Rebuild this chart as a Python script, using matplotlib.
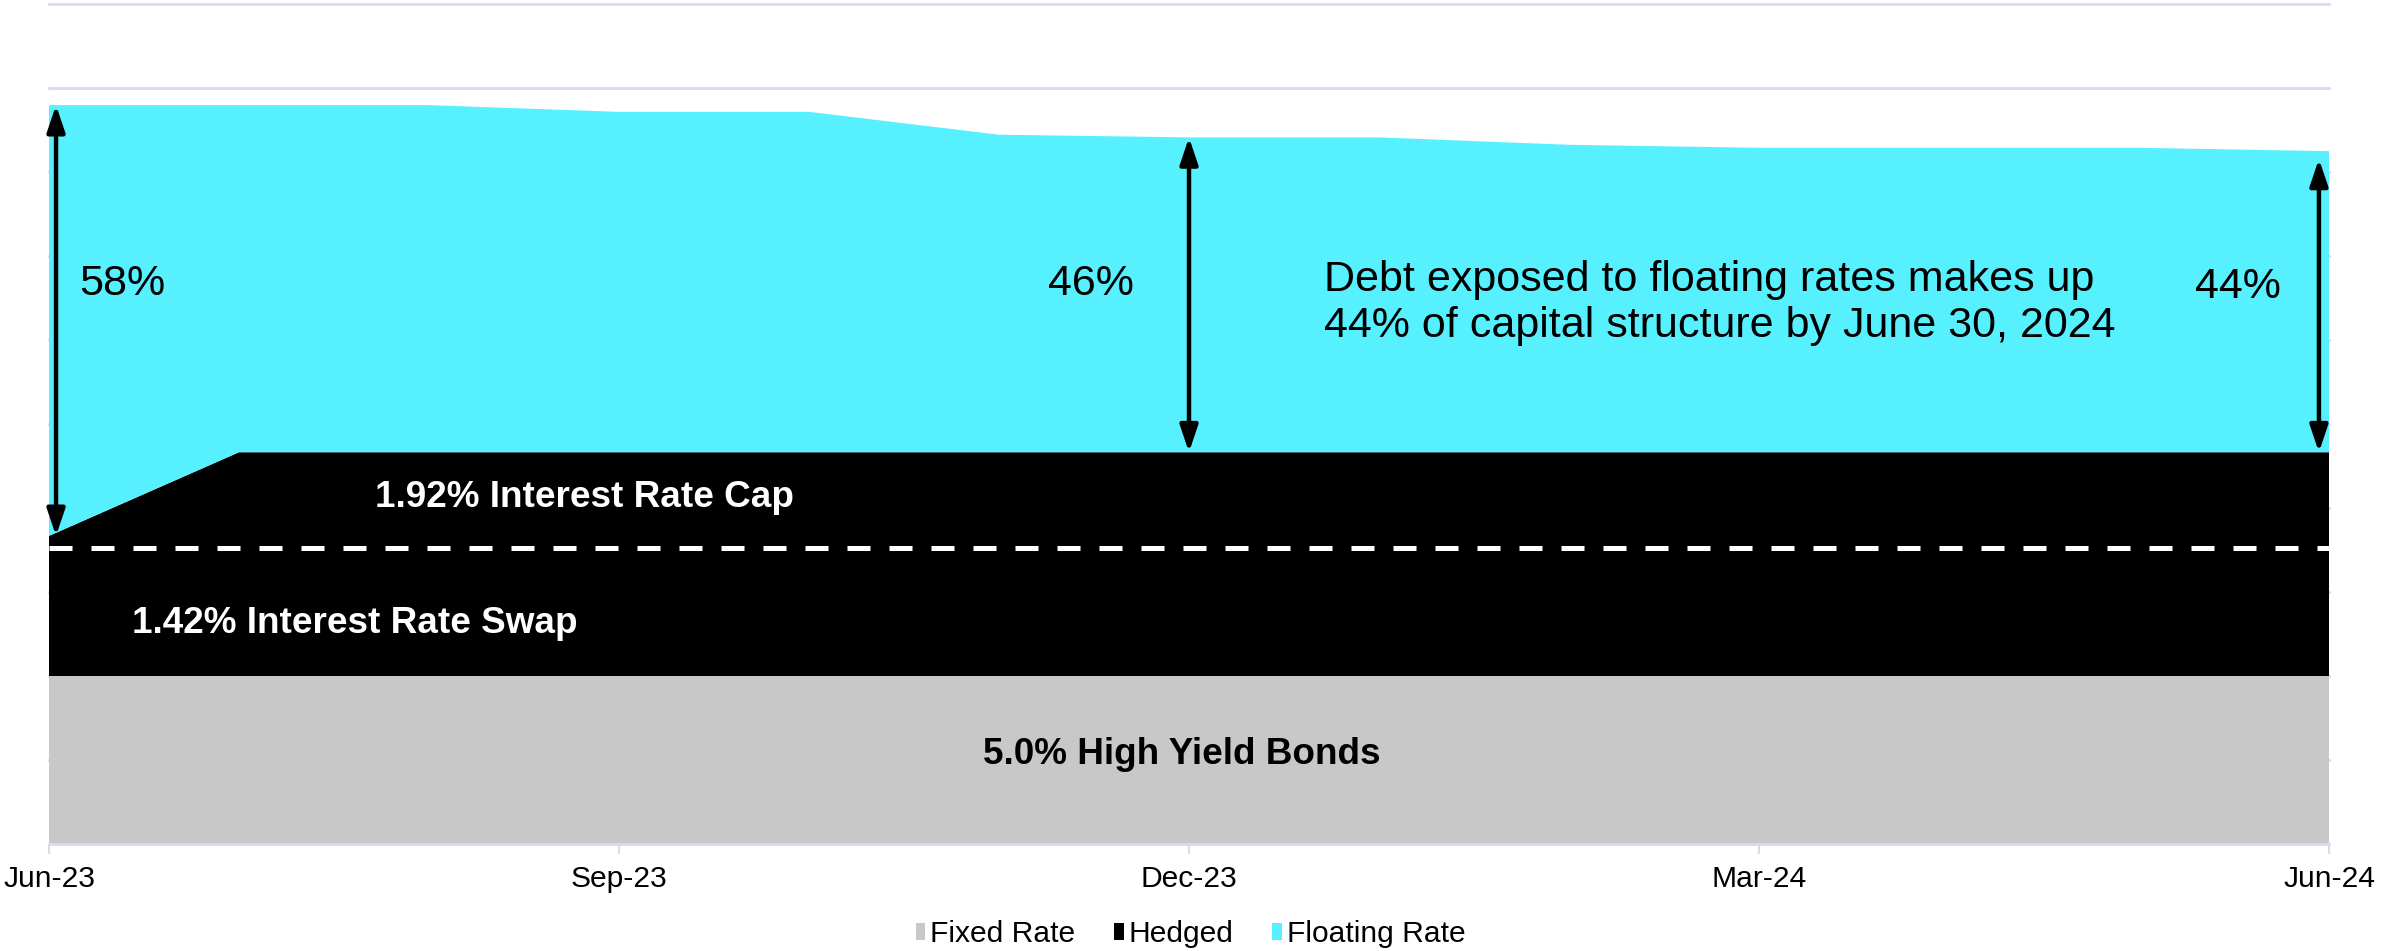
import matplotlib

matplotlib.use("Agg")
import matplotlib.pyplot as plt
import numpy as np
from matplotlib.patches import Patch

plt.rcParams["font.family"] = ["Liberation Sans", "DejaVu Sans"]

# ---------------------------------------------------------------------------
# Capital structure, month-end, $M
# ---------------------------------------------------------------------------
months = ["Jun-23", "Jul-23", "Aug-23", "Sep-23", "Oct-23", "Nov-23", "Dec-23",
          "Jan-24", "Feb-24", "Mar-24", "Apr-24", "May-24", "Jun-24"]
fixed_rate = [500] * 13
swap = [382] * 13
cap = [35, 284, 284, 284, 284, 284, 284, 284, 284, 284, 284, 284, 284]
floating_rate = [1282, 1033, 1033, 1013, 1013, 945, 937, 937, 915, 906, 906, 906, 896]

quarter_ticks = ["Jun-23", "Sep-23", "Dec-23", "Mar-24", "Jun-24"]
series_names = ["Fixed Rate", "Hedged", "Floating Rate"]

# arrow labels: (month, share of total that floats)
exposure_labels = [("Jun-23", "58%"), ("Dec-23", "46%"), ("Jun-24", "44%")]

GREY = "#C8C8C8"
BLACK = "#000000"
CYAN = "#57F0FF"
GRID = "#D7DCF6"


def main() -> None:
    x = np.arange(len(months))
    fixed = np.array(fixed_rate, dtype=float)
    hedged = np.array(swap, dtype=float) + np.array(cap, dtype=float)
    floating = np.array(floating_rate, dtype=float)

    fig = plt.figure(figsize=(23.81, 9.51), dpi=100)
    ax = fig.add_axes([0.02058, 0.1125, 0.95758, 0.8833])

    ax.stackplot(x, fixed, hedged, floating, colors=[GREY, BLACK, CYAN],
                 linewidth=0, zorder=2)

    # swap / cap boundary inside the hedged block
    ax.plot(x, fixed + np.array(swap), color="white", lw=3.6,
            dashes=(4.6, 3.8), zorder=3)

    # exposure arrows from top of hedged to top of floating
    hedged_top = fixed + hedged
    total = hedged_top + floating
    arrow_x = {"Jun-23": 0.037, "Dec-23": 6.0, "Jun-24": 11.947}
    arrow_top = {"Jun-23": 0.0, "Dec-23": 0.0, "Jun-24": 23.0}
    for m, _ in exposure_labels:
        i = months.index(m)
        ax.annotate("", xy=(arrow_x[m], total[i] - arrow_top[m]),
                    xytext=(arrow_x[m], hedged_top[i]),
                    arrowprops=dict(arrowstyle="<|-|>,head_length=0.8,head_width=0.27",
                                    mutation_scale=20, lw=3.2, color=BLACK,
                                    shrinkA=0, shrinkB=0),
                    zorder=4)

    ax.text(0.158, 1667, exposure_labels[0][1], fontsize=31, ha="left", va="center")
    ax.text(5.484, 1667, exposure_labels[1][1], fontsize=31, ha="center", va="center")
    ax.text(11.52, 1657, exposure_labels[2][1], fontsize=31, ha="center", va="center")
    ax.text(6.71, 1610,
            "Debt exposed to floating rates makes up\n"
            "44% of capital structure by June 30, 2024",
            fontsize=31, ha="left", va="center", linespacing=1.2)

    ax.text(2.82, 1032, "1.92% Interest Rate Cap", fontsize=26.6,
            fontweight="bold", color="white", ha="center", va="center")
    ax.text(1.61, 657, "1.42% Interest Rate Swap", fontsize=26.6,
            fontweight="bold", color="white", ha="center", va="center")
    ax.text(5.96, 265, "5.0% High Yield Bonds", fontsize=26.6,
            fontweight="bold", color=BLACK, ha="center", va="center")

    # axes styling
    ax.set_xlim(0, len(months) - 1)
    ax.set_ylim(0, 2500)
    ax.set_yticks(np.arange(0, 2501, 250))
    ax.yaxis.grid(True, color=GRID, lw=2)
    ax.set_axisbelow(True)
    ax.tick_params(axis="y", left=False, labelleft=False)
    ax.set_xticks([months.index(t) for t in quarter_ticks])
    ax.set_xticklabels(quarter_ticks, fontsize=21.6)
    ax.tick_params(axis="x", length=7, width=1.5, color=GRID, pad=8)
    for side in ("top", "right", "left"):
        ax.spines[side].set_visible(False)
    ax.spines["bottom"].set_color(GRID)
    ax.spines["bottom"].set_linewidth(2)
    for line in ax.get_ygridlines():
        line.set_clip_on(False)

    handles = [Patch(facecolor=c, edgecolor="none") for c in (GREY, BLACK, CYAN)]
    fig.legend(handles, series_names, loc="center", bbox_to_anchor=(0.5, 0.018),
               ncol=3, frameon=False, fontsize=21.6, handlelength=0.33,
               handleheight=0.5, handletextpad=0.15, columnspacing=1.3)

    fig.savefig("out.png", dpi=100)
    plt.close(fig)


if __name__ == "__main__":
    main()
